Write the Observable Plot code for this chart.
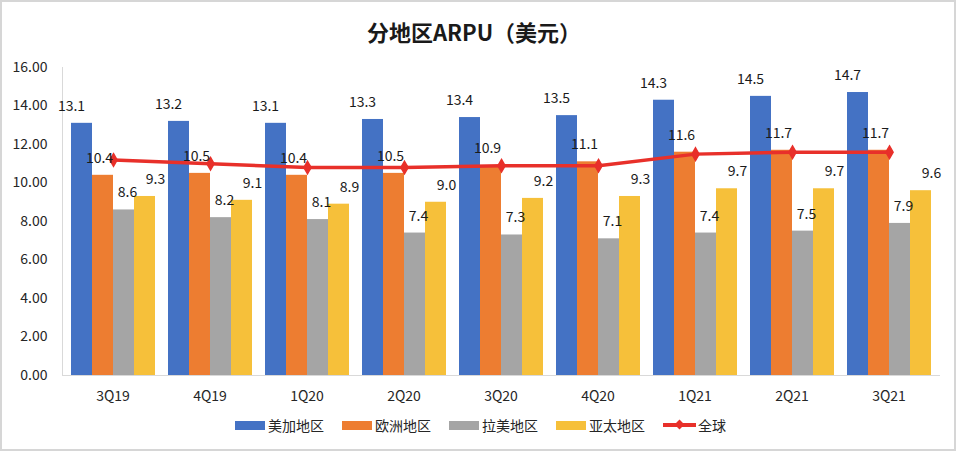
<!DOCTYPE html>
<html>
<head>
<meta charset="utf-8">
<script src="https://cdn.jsdelivr.net/npm/d3@7"></script>
<script src="https://cdn.jsdelivr.net/npm/@observablehq/plot@0.6"></script>
<style>
  html, body { margin: 0; padding: 0; background: #fff; }
  #wrap { position: relative; width: 958px; height: 452px; overflow: hidden;
          font-family: "Noto Sans CJK SC", "Noto Sans", sans-serif; }
  #border { position: absolute; left: 0; top: 0; width: 956px; height: 451px;
            box-sizing: border-box; border: 2px solid #d6d6d6; pointer-events: none; }
  #title { position: absolute; top: 15px; left: 0; width: 948px; text-align: center;
           font-size: 22px; font-weight: bold; color: #1a1a1a; }
  .layer { position: absolute; left: 0; top: 0; }
  #legend { position: absolute; top: 415px; left: 235px; display: flex; align-items: center;
            font-size: 14px; color: #262626; }
  .item { display: flex; align-items: center; margin-right: 18px; }
  .sw { width: 30px; height: 9px; margin-right: 3px; }
  .lsw { position: relative; width: 33px; height: 12px; margin-right: 2px; }
  .lsw .ln { position: absolute; left: 0; top: 4px; width: 33px; height: 4px; background: #E8302A; }
  .lsw .mk { position: absolute; left: 13px; top: 2px; width: 7px; height: 7px; background: #E8302A; transform: rotate(45deg); }
</style>
</head>
<body>
<div id="wrap">
  <div id="title">分地区ARPU（美元）</div>
  <div id="chart"></div>
  <div id="legend"></div>
  <div id="border"></div>
</div>
<script>
const periods = ["3Q19","4Q19","1Q20","2Q20","3Q20","4Q20","1Q21","2Q21","3Q21"];
const regions = ["美加地区","欧洲地区","拉美地区","亚太地区"];
const usCanada = [13.1,13.2,13.1,13.3,13.4,13.5,14.3,14.5,14.7];
const europe   = [10.4,10.5,10.4,10.5,10.9,11.1,11.6,11.7,11.7];
const latam    = [8.6,8.2,8.1,7.4,7.3,7.1,7.4,7.5,7.9];
const apac     = [9.3,9.1,8.9,9.0,9.2,9.3,9.7,9.7,9.6];
const globalArpu = [11.2,11.0,10.8,10.8,10.9,10.9,11.5,11.6,11.6];
const globalName = "全球";
const yTicks = [0,2,4,6,8,10,12,14,16];
const colors = ["#4472C4","#ED7D31","#A5A5A5","#F6C03A"];
const lineColor = "#E8302A";

const series = [usCanada, europe, latam, apac];
const barData = [];
periods.forEach((p, i) => regions.forEach((r, j) => barData.push({period: p, region: r, value: series[j][i]})));
const lineData = periods.map((p, i) => ({period: p, value: globalArpu[i]}));

const W = 958, H = 452;
const M = {marginTop: 67, marginBottom: 77, marginLeft: 62, marginRight: 18};
const fontFamily = '"Noto Sans CJK SC", "Noto Sans", sans-serif';
const bandOpts = {domain: periods, paddingInner: 0.12, paddingOuter: 0.06};
const yOpts = {domain: [0, 16]};
const textColor = "#262626";

function facetBase(marks, withAxis) {
  return Plot.plot({
    width: W, height: H, ...M,
    style: {fontFamily, fontSize: "14px", color: textColor, background: "transparent"},
    fx: {...bandOpts, label: null, axis: withAxis ? "bottom" : null, tickSize: 0, tickPadding: 16},
    x: {domain: regions, padding: 0, axis: null},
    y: {...yOpts, axis: null},
    color: {domain: regions, range: colors},
    marks
  });
}

// Layer 1: bars + x labels
const bars = facetBase([
  Plot.barY(barData, {fx: "period", x: "region", y: "value", fill: "region"})
], true);

// Layer 2: y axis, baseline and global line (non-faceted, same band layout)
const lineLayer = Plot.plot({
  width: W, height: H, ...M,
  style: {fontFamily, fontSize: "14px", color: textColor, background: "transparent"},
  x: {...bandOpts, axis: null},
  y: {...yOpts, ticks: yTicks, tickFormat: d => d.toFixed(2), tickSize: 0, tickPadding: 15, label: null},
  marks: [
    Plot.frame({anchor: "left", stroke: "#d9d9d9"}),
    Plot.ruleY([0], {stroke: "#d9d9d9"}),
    Plot.line(lineData, {x: "period", y: "value", stroke: lineColor, strokeWidth: 3.5}),
    Plot.dot(lineData, {x: "period", y: "value", symbol: "diamond", r: 3.8, fill: lineColor, stroke: lineColor})
  ]
});

// Layer 3: value labels
const labels = facetBase([
  Plot.text(barData, {fx: "period", x: "region", y: "value", text: d => d.value.toFixed(1),
    dy: -17, fill: "#1a1a1a", fontSize: 14})
], false);

const chart = document.getElementById("chart");
[bars, lineLayer, labels].forEach(s => { s.classList.add("layer"); chart.appendChild(s); });

// Legend
const legend = document.getElementById("legend");
regions.forEach((r, j) => {
  const it = document.createElement("div"); it.className = "item";
  const sw = document.createElement("div"); sw.className = "sw"; sw.style.background = colors[j];
  const tx = document.createElement("span"); tx.textContent = r;
  it.append(sw, tx); legend.appendChild(it);
});
{
  const it = document.createElement("div"); it.className = "item";
  const sw = document.createElement("div"); sw.className = "lsw";
  sw.innerHTML = '<div class="ln"></div><div class="mk"></div>';
  const tx = document.createElement("span"); tx.textContent = globalName;
  it.append(sw, tx); legend.appendChild(it);
}
</script>
</body>
</html>
